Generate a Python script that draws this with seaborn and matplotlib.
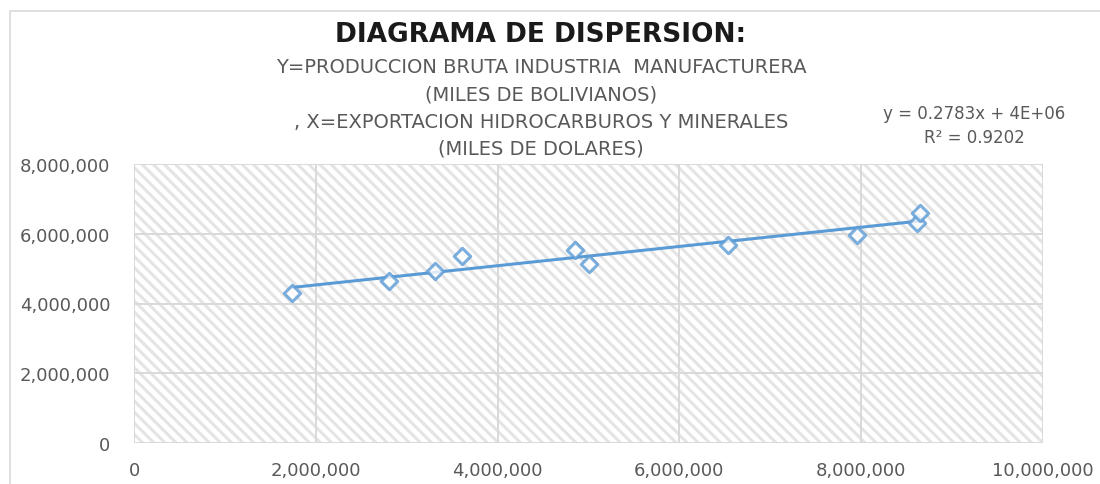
import numpy as np
import pandas as pd
import matplotlib
matplotlib.use("Agg")
import matplotlib.pyplot as plt
from matplotlib.patches import Rectangle
from matplotlib.ticker import FuncFormatter
import seaborn as sns

# X = exportacion hidrocarburos y minerales (miles de dolares)
exportacion = [1742000, 2800000, 3310000, 3610000, 4850000, 5000000, 6530000, 7950000, 8610000, 8650000]
# Y = produccion bruta industria manufacturera (miles de bolivianos)
produccion = [4310000, 4640000, 4930000, 5350000, 5520000, 5140000, 5690000, 5970000, 6300000, 6590000]
x_ticks = [0, 2000000, 4000000, 6000000, 8000000, 10000000]
y_ticks = [0, 2000000, 4000000, 6000000, 8000000]

titulo = "DIAGRAMA DE DISPERSION:"
subtitulo = ["Y=PRODUCCION BRUTA INDUSTRIA  MANUFACTURERA",
             "(MILES DE BOLIVIANOS)",
             ", X=EXPORTACION HIDROCARBUROS Y MINERALES",
             "(MILES DE DOLARES)"]
ecuacion = "y = 0.2783x + 4E+06"
r2 = "R² = 0.9202"

df = pd.DataFrame({"x": exportacion, "y": produccion})

sns.set_style("white")
plt.rcParams["font.family"] = ["DejaVu Sans"]
plt.rcParams["hatch.linewidth"] = 2.2

blue = "#5B9BD5"
grey_txt = "#595959"
grid_c = "#D9D9D9"

fig = plt.figure(figsize=(11, 4.85), dpi=100)
ax = fig.add_axes([134 / 1100, 1 - 444 / 485, (1043 - 134) / 1100, (444 - 165) / 485])

# hatched plot area
ax.add_patch(Rectangle((0, 0), 1, 1, transform=ax.transAxes, fill=False,
                       hatch="\\\\\\", edgecolor="#E4E4E4", lw=0, zorder=0))

sns.regplot(data=df, x="x", y="y", ax=ax, ci=None, marker="D",
            scatter_kws={"s": 70, "facecolors": "white", "edgecolors": blue,
                         "linewidths": 2.2, "zorder": 4},
            line_kws={"color": blue, "lw": 2.2, "zorder": 3})

ax.set_xlim(0, 10000000)
ax.set_ylim(0, 8000000)
ax.set_xticks(x_ticks)
ax.set_yticks(y_ticks)
ax.xaxis.set_major_formatter(FuncFormatter(lambda v, p: f"{int(v):,}"))
ax.yaxis.set_major_formatter(FuncFormatter(lambda v, p: f"{int(v):,}"))
ax.grid(True, color=grid_c, lw=1.4)
ax.set_axisbelow(True)
for s in ax.spines.values():
    s.set_visible(False)
ax.tick_params(axis="y", labelsize=13, colors=grey_txt, length=0, pad=17)
ax.tick_params(axis="x", labelsize=13, colors=grey_txt, length=0, pad=13)
ax.set_xlabel("")
ax.set_ylabel("")

# chart border
fig.patches.append(Rectangle((10 / 1100, -0.01), 1.0, 1 - 12 / 485 + 0.01,
                             transform=fig.transFigure, fill=False,
                             edgecolor=grid_c, lw=1.2))

fig.text(541 / 1100, 1 - 35 / 485, titulo, ha="center", va="center",
         fontsize=19, fontweight="bold", color="#1a1a1a")
for i, line in enumerate(subtitulo):
    fig.text(541 / 1100, 1 - (68 + 27 * i) / 485, line, ha="center", va="center",
             fontsize=14, color=grey_txt)

fig.text(974 / 1100, 1 - 114 / 485, ecuacion, ha="center", va="center",
         fontsize=12, color=grey_txt)
fig.text(974 / 1100, 1 - 138 / 485, r2, ha="center", va="center",
         fontsize=12, color=grey_txt)

fig.savefig("out.png", dpi=100)
